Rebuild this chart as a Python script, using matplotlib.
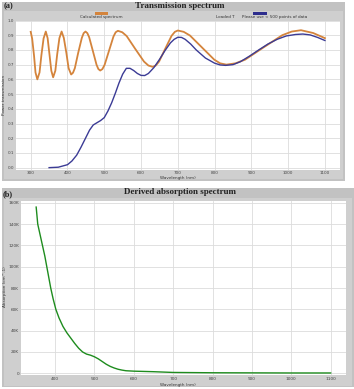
import matplotlib
matplotlib.use("Agg")
import matplotlib.pyplot as plt
from matplotlib.patches import Rectangle

W, H = 354, 389

# ---------------- data ----------------
calc_wl = [300, 304, 309, 313, 318, 324, 329, 335, 341, 346, 351, 356, 361,
           367, 372, 378, 384, 390, 397, 403, 410, 415, 420, 429, 439, 444, 449,
           454, 459, 469, 479, 484, 489, 495, 501, 513, 525, 531, 537, 549, 561,
           584, 608, 620, 632, 640, 649, 666, 683, 692, 700, 716, 733, 766, 799,
           815, 832, 857, 883, 933, 984, 1010, 1035, 1068, 1100]
calc_T = [0.923, 0.876, 0.762, 0.647, 0.600, 0.647, 0.763, 0.878, 0.925, 0.880,
          0.770, 0.659, 0.614, 0.659, 0.770, 0.880, 0.925, 0.882, 0.779, 0.676,
          0.633, 0.645, 0.676, 0.779, 0.882, 0.914, 0.925, 0.914, 0.886, 0.793,
          0.699, 0.670, 0.660, 0.670, 0.699, 0.795, 0.891, 0.920, 0.930, 0.920,
          0.894, 0.808, 0.721, 0.694, 0.685, 0.694, 0.721, 0.809, 0.896, 0.923,
          0.932, 0.923, 0.898, 0.816, 0.734, 0.709, 0.700, 0.709, 0.734, 0.817,
          0.900, 0.925, 0.934, 0.915, 0.880]

load_wl = [350, 375, 400, 412, 425, 437, 450, 460, 470, 480, 490, 500, 510, 520,
           530, 540, 550, 560, 570, 580, 590, 600, 610, 620, 635, 650, 665, 680,
           690, 700, 710, 720, 735, 750, 775, 800, 815, 830, 850, 870, 895, 920,
           945, 970, 995, 1020, 1040, 1060, 1080, 1100]
load_T = [0.000, 0.003, 0.020, 0.045, 0.085, 0.140, 0.205, 0.255, 0.290, 0.305,
          0.320, 0.340, 0.385, 0.440, 0.505, 0.575, 0.635, 0.675, 0.675, 0.660,
          0.640, 0.627, 0.626, 0.640, 0.680, 0.735, 0.795, 0.848, 0.872, 0.886,
          0.885, 0.872, 0.840, 0.800, 0.745, 0.710, 0.698, 0.695, 0.700, 0.720,
          0.758, 0.800, 0.840, 0.872, 0.895, 0.905, 0.908, 0.902, 0.885, 0.864]

abs_wl = [352, 356, 362, 368, 374, 379, 384, 389, 395, 402, 410, 420, 430, 440,
          450, 460, 470, 480, 490, 500, 510, 520, 530, 540, 550, 560, 570, 580,
          600, 650, 700, 800, 900, 1000, 1100]
abs_val = [156000, 140000, 130000, 120000, 110000, 100000, 90000, 80000, 70000,
           60000, 52000, 44000, 38000, 33000, 28000, 23500, 20000, 18000, 17000,
           15500, 13500, 11000, 8500, 6500, 5000, 3800, 3000, 2400, 2000, 1500,
           800, 500, 400, 300, 300]

top_xticks = [300, 400, 500, 600, 700, 800, 900, 1000, 1100]
top_yticks = [0.0, 0.1, 0.2, 0.3, 0.4, 0.5, 0.6, 0.7, 0.8, 0.9, 1.0]
bot_xticks = [400, 500, 600, 700, 800, 900, 1000, 1100]
bot_yticks = [0, 20000, 40000, 60000, 80000, 100000, 120000, 140000, 160000]
bot_ylabels = ["0", "20K", "40K", "60K", "80K", "100K", "120K", "140K", "160K"]

# ---------------- figure ----------------
fig = plt.figure(figsize=(W / 100, H / 100), dpi=100)
fig.patch.set_facecolor("white")


def rect(x0, y0, x1, y1, fc, z=-5):
    fig.patches.append(Rectangle((x0 / W, 1 - y1 / H), (x1 - x0) / W, (y1 - y0) / H,
                                 transform=fig.transFigure, facecolor=fc,
                                 edgecolor="none", linewidth=0, zorder=z))


def ftext(x, y, s, **kw):
    fig.text(x / W, 1 - y / H, s, **kw)


def axes_px(x0, y0, x1, y1):
    return fig.add_axes([x0 / W, 1 - y1 / H, (x1 - x0) / W, (y1 - y0) / H])


# panel backgrounds
rect(2, 2, 345, 181, "#c2c2c2", -6)
rect(4, 11, 343, 179, "#cfcfcf", -5)
rect(2, 188, 354, 387, "#c2c2c2", -6)
rect(4, 198, 352, 385.5, "#cfcfcf", -5)

serif = ["Liberation Serif", "DejaVu Serif"]
tick_col = "#444444"

# ---------------- top panel ----------------
ax1 = axes_px(16, 20.5, 340, 170)
ax1.set_facecolor("white")
ax1.plot(calc_wl, calc_T, color="#d4843c", lw=1.3, solid_joinstyle="round")
ax1.plot(load_wl, load_T, color="#3b3b95", lw=1.0, solid_joinstyle="round")
ax1.set_xlim(260, 1141)
ax1.set_ylim(-0.016, 1.0)
ax1.set_xticks(top_xticks)
ax1.set_yticks(top_yticks)
ax1.set_yticklabels([f"{v:.1f}" for v in top_yticks])
ax1.grid(True, color="#dcdcdc", lw=0.6)
ax1.tick_params(length=0, labelsize=3.0, colors=tick_col)
ax1.tick_params(axis="x", pad=1.0)
ax1.tick_params(axis="y", pad=1.5)
for s in ax1.spines.values():
    s.set_visible(False)
ax1.set_axisbelow(True)

ftext(180, 6, "Transmission spectrum", ha="center", va="center",
      fontsize=6.5, fontweight="bold", family=serif, color="#222222")
ftext(8, 6, "(a)", ha="center", va="center", fontsize=6, fontweight="bold",
      family=serif, color="#222222")
# legend
rect(95, 12, 108, 14.5, "#d4843c", 1)
ftext(101, 17.2, "Calculated spectrum", ha="center", va="center",
      fontsize=3.0, color="#333333")
ftext(225, 17.2, "Loaded T", ha="center", va="center", fontsize=3.0,
      color="#333333")
rect(253, 12, 267, 14.5, "#2e2e8e", 1)
ftext(275, 17.2, "Please use < 500 points of data", ha="center", va="center",
      fontsize=3.0, color="#333333")
ftext(178, 178, "Wavelength (nm)", ha="center", va="center", fontsize=3.0,
      color="#333333")
ftext(4.5, 95, "Power transmission", ha="center", va="center", fontsize=3.0,
      rotation=90, color="#333333")

# ---------------- bottom panel ----------------
ax2 = axes_px(20.7, 200.7, 346, 375)
ax2.set_facecolor("white")
ax2.plot(abs_wl, abs_val, color="#1e8c1e", lw=1.0, solid_joinstyle="round")
ax2.set_xlim(312.7, 1139)
ax2.set_ylim(-1600, 162000)
ax2.set_xticks(bot_xticks)
ax2.set_yticks(bot_yticks)
ax2.set_yticklabels(bot_ylabels)
ax2.grid(True, color="#dcdcdc", lw=0.6)
ax2.tick_params(length=0, labelsize=3.1, colors=tick_col)
ax2.tick_params(axis="x", pad=1.5)
ax2.tick_params(axis="y", pad=1.2)
for s in ax2.spines.values():
    s.set_visible(False)
ax2.set_axisbelow(True)

ftext(180, 192, "Derived absorption spectrum", ha="center", va="center",
      fontsize=6.5, fontweight="bold", family=serif, color="#222222")
ftext(8, 194, "(b)", ha="center", va="center", fontsize=6, fontweight="bold",
      family=serif, color="#222222")
ftext(178, 385, "Wavelength (nm)", ha="center", va="center", fontsize=3.0,
      color="#333333")
ftext(5.0, 287, "Absorption (cm^-1)", ha="center", va="center", fontsize=3.0,
      rotation=90, color="#333333")

fig.savefig("out.png", dpi=100)
